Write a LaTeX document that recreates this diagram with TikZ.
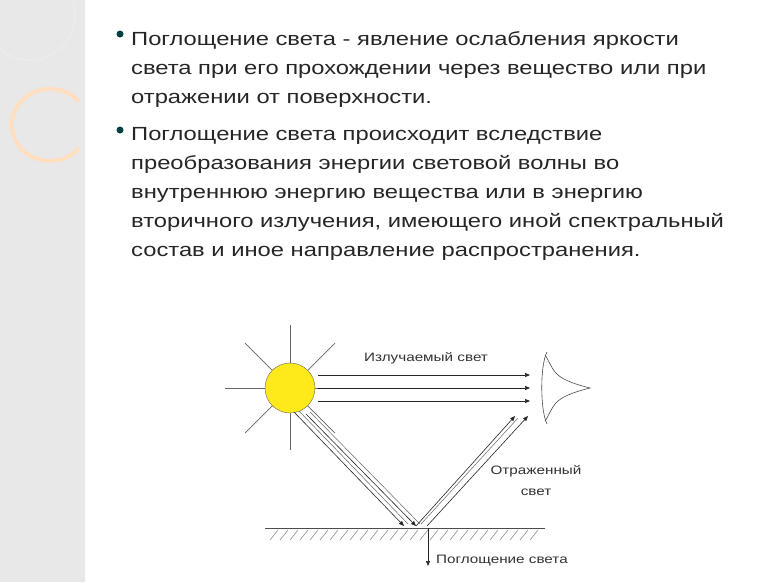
\documentclass[tikz,border=0pt]{standalone}
\usepackage{fontspec}
\setmainfont{Liberation Sans}[FakeStretch=1.25]
\usetikzlibrary{arrows.meta}
\begin{document}
\begin{tikzpicture}[x=1pt,y=-1pt,
  body/.style={anchor=base west,font=\fontsize{19}{20}\selectfont,text=black!85,inner sep=0},
  small/.style={font=\fontsize{12.2}{13}\selectfont,text=black!80,inner sep=0},
  ray/.style={draw=black!60,line width=0.7pt},
  arr/.style={draw=black!85,line width=0.6pt,-{Triangle[length=5pt,width=4pt]}}]
\useasboundingbox (0,0) rectangle (778,582);
\fill[white] (0,0) rectangle (778,582);
\fill[black!9] (0,0) rectangle (85,582);
\draw[black!7,line width=1pt] (30,15) circle (45);
\draw[orange!25,line width=4pt] (79,148) arc (40:320:38 and 36);
\fill[teal!50!black] (120,34) circle (3.5);
\fill[teal!50!black] (120,130) circle (3.5);
\node[body] (t1) at (131,45) {Поглощение света - явление ослабления яркости};
\node[body] (t2) at (131,74) {света при его прохождении через вещество или при};
\node[body] (t3) at (131,103) {отражении от поверхности.};
\node[body] (t4) at (131,140) {Поглощение света происходит вследствие};
\node[body] (t5) at (131,169) {преобразования энергии световой волны во};
\node[body] (t6) at (131,198) {внутреннюю энергию вещества или в энергию};
\node[body] (t7) at (131,227) {вторичного излучения, имеющего иной спектральный};
\node[body] (t8) at (131,256) {состав и иное направление распространения.};
% sun
\draw[ray] (290,325) -- (290,450);
\draw[ray] (225,388) -- (355,388);
\draw[ray] (245,343) -- (335,433);
\draw[ray] (335,343) -- (245,433);
\node[circle,draw=black!60,fill=yellow!90!orange!90,minimum size=50pt,inner sep=0] (sun) at (290,388) {};
% emitted light
\coordinate (h1a) at (318,375); \coordinate (h1b) at (530,375);
\coordinate (h2a) at (318,388); \coordinate (h2b) at (530,388);
\coordinate (h3a) at (318,401); \coordinate (h3b) at (530,401);
\draw[arr] (h1a) -- (h1b); \draw[arr] (h2a) -- (h2b); \draw[arr] (h3a) -- (h3b);
\node[small] (l1) at (426,358) {Излучаемый свет};
% eye
\draw[black!70,line width=0.6pt] (545,355) .. controls (555,370) and (550,378) .. (590,388)
  .. controls (550,398) and (555,406) .. (545,421);
\draw[black!70,line width=0.6pt] (547,352) .. controls (540,365) and (540,410) .. (547,424);
% ground
\draw[black!70,line width=0.6pt] (265,528) -- (545,528);
\foreach \x in {270,280,...,530} \draw[black!50,line width=0.5pt] (\x,540) -- (\x+8,530);
% incident
\coordinate (i1a) at (294,412); \coordinate (i1b) at (404,526);
\coordinate (i2a) at (306,414); \coordinate (i2b) at (416,526);
\draw[arr] (i1a) -- (i1b); \draw[arr] (i2a) -- (i2b);
\draw[black!60,line width=0.5pt] (299,411) -- (408,524);
\draw[black!60,line width=0.5pt] (310,412) -- (420,524);
% reflected
\coordinate (r1a) at (416,526); \coordinate (r1b) at (515,416);
\coordinate (r2a) at (427,526); \coordinate (r2b) at (528,416);
\draw[arr] (r1a) -- (r1b); \draw[arr] (r2a) -- (r2b);
\draw[black!60,line width=0.5pt] (421,524) -- (518,418);
\node[small] (l2) at (536,471) {Отраженный};
\node[small] (l3) at (536,492) {свет};
% absorption
\coordinate (ab1) at (428,528); \coordinate (ab2) at (428,566);
\draw[arr] (ab1) -- (ab2);
\node[small,anchor=west] (l4) at (436,561) {Поглощение света};
\end{tikzpicture}
\end{document}
